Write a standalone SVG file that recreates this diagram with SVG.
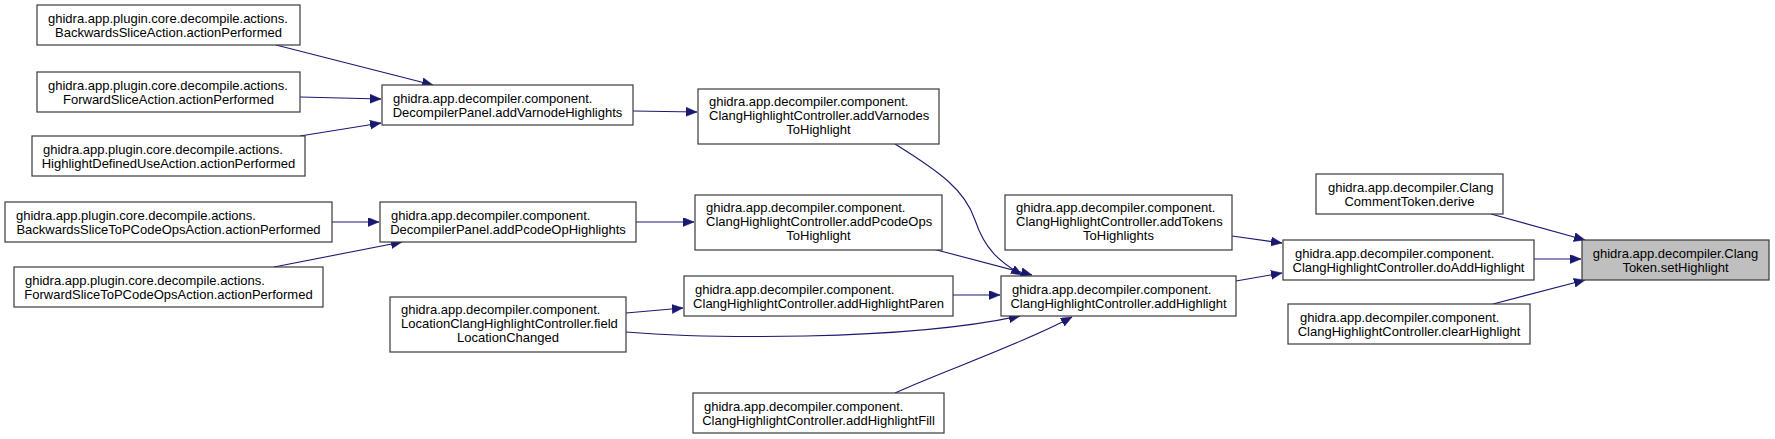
<svg xmlns="http://www.w3.org/2000/svg" width="1775" height="439" viewBox="0 0 1775 439">
<style>
.n rect{fill:#ffffff;stroke:#3a3a3a;stroke-width:1.2}
.n.hl rect{fill:#bfbfbf}
.n text{font-family:"Liberation Sans",Arial,sans-serif;font-size:13px;fill:#000}
.m{text-anchor:middle}
#edges path{fill:none;stroke:#191970;stroke-width:1.1;marker-end:url(#ah)}
</style>
<defs>
<marker id="ah" markerUnits="userSpaceOnUse" markerWidth="12" markerHeight="10" refX="11" refY="4.5" orient="auto">
<path d="M0,0 L11,4.5 L0,9 z" fill="#191970" stroke="#191970" stroke-width="0.5"/>
</marker>
</defs>
<rect width="1775" height="439" fill="#ffffff"/>
<g id="edges">
<path d="M276,45 L433,85"/>
<path d="M300,97 L381,99"/>
<path d="M300,136 L381,123"/>
<path d="M633,111 L697,112"/>
<path d="M332,222 L379,222"/>
<path d="M274,267 L402,242"/>
<path d="M636,222 L694,222"/>
<path d="M895,144 C940,172 965,190 975,220 C985,250 1000,262 1022,275"/>
<path d="M933,249 L1032,275"/>
<path d="M953,295 L1000,295"/>
<path d="M626,313 L683,308"/>
<path d="M626,332 C700,338 900,342 1020,316"/>
<path d="M895,393 C940,372 1020,345 1072,317"/>
<path d="M1232,236 L1282,243"/>
<path d="M1236,281 L1282,273"/>
<path d="M1491,214 L1585,240"/>
<path d="M1534,259 L1581,259"/>
<path d="M1493,304 L1585,280"/>
</g>
<g id="n_a1" class="n"><rect x="37" y="5" width="263" height="40"/><text x="48" y="23">ghidra.app.plugin.core.decompile.actions.</text><text class="m" x="168.5" y="37">BackwardsSliceAction.actionPerformed</text></g>
<g id="n_a2" class="n"><rect x="37" y="72" width="263" height="40"/><text x="48" y="90">ghidra.app.plugin.core.decompile.actions.</text><text class="m" x="168.5" y="104">ForwardSliceAction.actionPerformed</text></g>
<g id="n_a3" class="n"><rect x="32" y="136" width="273" height="40"/><text x="43" y="154">ghidra.app.plugin.core.decompile.actions.</text><text class="m" x="168.5" y="168">HighlightDefinedUseAction.actionPerformed</text></g>
<g id="n_b1" class="n"><rect x="382" y="85" width="251" height="40"/><text x="393" y="103">ghidra.app.decompiler.component.</text><text class="m" x="507.5" y="117">DecompilerPanel.addVarnodeHighlights</text></g>
<g id="n_a4" class="n"><rect x="5" y="202" width="327" height="40"/><text x="16" y="220">ghidra.app.plugin.core.decompile.actions.</text><text class="m" x="168.5" y="234">BackwardsSliceToPCodeOpsAction.actionPerformed</text></g>
<g id="n_a5" class="n"><rect x="14" y="267" width="309" height="40"/><text x="25" y="285">ghidra.app.plugin.core.decompile.actions.</text><text class="m" x="168.5" y="299">ForwardSliceToPCodeOpsAction.actionPerformed</text></g>
<g id="n_b2" class="n"><rect x="380" y="202" width="256" height="40"/><text x="391" y="220">ghidra.app.decompiler.component.</text><text class="m" x="508" y="234">DecompilerPanel.addPcodeOpHighlights</text></g>
<g id="n_l" class="n"><rect x="390" y="297" width="236" height="55"/><text x="401" y="314">ghidra.app.decompiler.component.</text><text x="401" y="328">LocationClangHighlightController.field</text><text class="m" x="508" y="342">LocationChanged</text></g>
<g id="n_c1" class="n"><rect x="698" y="89" width="241" height="55"/><text x="709" y="106">ghidra.app.decompiler.component.</text><text x="709" y="120">ClangHighlightController.addVarnodes</text><text class="m" x="818.5" y="134">ToHighlight</text></g>
<g id="n_c2" class="n"><rect x="695" y="195" width="247" height="55"/><text x="706" y="212">ghidra.app.decompiler.component.</text><text x="706" y="226">ClangHighlightController.addPcodeOps</text><text class="m" x="818.5" y="240">ToHighlight</text></g>
<g id="n_c3" class="n"><rect x="684" y="276" width="269" height="40"/><text x="695" y="294">ghidra.app.decompiler.component.</text><text class="m" x="818.5" y="308">ClangHighlightController.addHighlightParen</text></g>
<g id="n_c4" class="n"><rect x="693" y="393" width="251" height="40"/><text x="704" y="411">ghidra.app.decompiler.component.</text><text class="m" x="818.5" y="425">ClangHighlightController.addHighlightFill</text></g>
<g id="n_d" class="n"><rect x="1005" y="195" width="227" height="55"/><text x="1016" y="212">ghidra.app.decompiler.component.</text><text x="1016" y="226">ClangHighlightController.addTokens</text><text class="m" x="1118.5" y="240">ToHighlights</text></g>
<g id="n_e" class="n"><rect x="1001" y="276" width="235" height="40"/><text x="1012" y="294">ghidra.app.decompiler.component.</text><text class="m" x="1118.5" y="308">ClangHighlightController.addHighlight</text></g>
<g id="n_f1" class="n"><rect x="1316" y="174" width="187" height="40"/><text x="1328" y="192">ghidra.app.decompiler.Clang</text><text class="m" x="1409.5" y="206">CommentToken.derive</text></g>
<g id="n_f2" class="n"><rect x="1283" y="240" width="251" height="40"/><text x="1295" y="258">ghidra.app.decompiler.component.</text><text class="m" x="1408.5" y="272">ClangHighlightController.doAddHighlight</text></g>
<g id="n_f3" class="n"><rect x="1288" y="304" width="242" height="40"/><text x="1300" y="322">ghidra.app.decompiler.component.</text><text class="m" x="1409" y="336">ClangHighlightController.clearHighlight</text></g>
<g id="n_g" class="n hl"><rect x="1582" y="240" width="187" height="40"/><text class="m" x="1675.5" y="258">ghidra.app.decompiler.Clang</text><text class="m" x="1675.5" y="272">Token.setHighlight</text></g>
</svg>
